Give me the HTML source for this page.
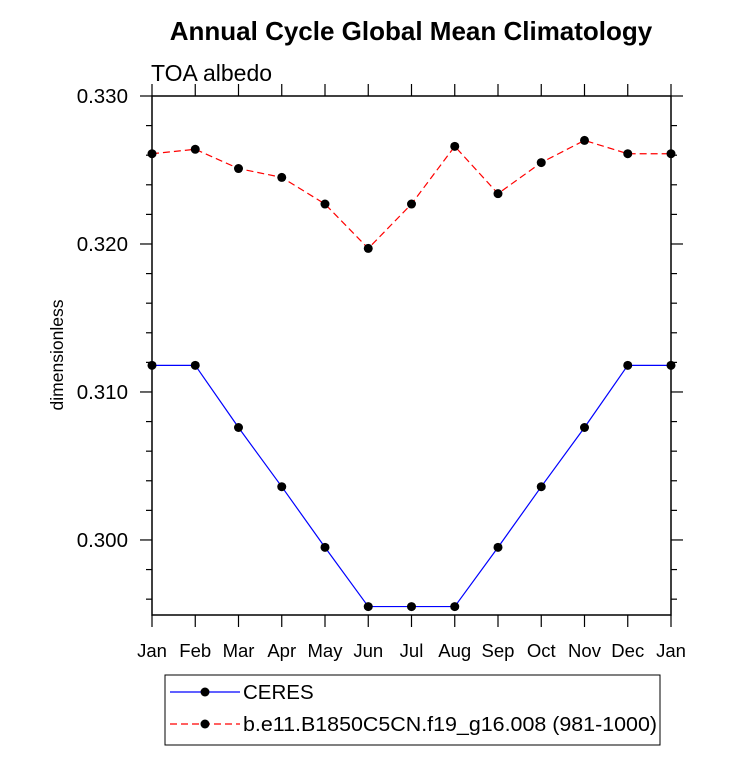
<!DOCTYPE html>
<html><head><meta charset="utf-8"><style>body{margin:0;background:#fff}svg{display:block;font-family:"Liberation Sans",sans-serif}</style></head>
<body>
<svg id="chart" width="733" height="766">
<text x="411" y="40" text-anchor="middle" font-size="26" font-weight="bold">Annual Cycle Global Mean Climatology</text>
<text x="151" y="81" font-size="23">TOA albedo</text>
<text transform="translate(63,355) rotate(-90)" text-anchor="middle" font-size="17.5">dimensionless</text>
<g id="axes"></g>
<g id="series"></g>
<g>
<rect x="165" y="675" width="495" height="70" fill="none" stroke="#000" stroke-width="1"/>
<line x1="170" y1="692" x2="240" y2="692" stroke="#0000ff" stroke-width="1.2"/>
<circle cx="205" cy="692" r="4.5" fill="#000"/>
<text x="243" y="699" font-size="20.5">CERES</text>
<line x1="170" y1="724" x2="240" y2="724" stroke="#ff0000" stroke-width="1.2" stroke-dasharray="7,4"/>
<circle cx="205" cy="724" r="4.5" fill="#000"/>
<text x="243" y="731" font-size="20.5" textLength="414" lengthAdjust="spacingAndGlyphs">b.e11.B1850C5CN.f19_g16.008 (981-1000)</text>
</g>
</svg>
<script>
const months=["Jan","Feb","Mar","Apr","May","Jun","Jul","Aug","Sep","Oct","Nov","Dec","Jan"];
const ceres=[0.3118,0.3118,0.3076,0.3036,0.2995,0.2955,0.2955,0.2955,0.2995,0.3036,0.3076,0.3118,0.3118];
const model=[0.3261,0.3264,0.3251,0.3245,0.3227,0.3197,0.3227,0.3266,0.3234,0.3255,0.3270,0.3261,0.3261];
const yTicks=[0.300,0.310,0.320,0.330];
const yTickLabels=["0.300","0.310","0.320","0.330"];
const L=152,R=671,T=96,B=615,ymin=0.29493,ymax=0.330;
const X=i=>L+i*(R-L)/12;
const Y=v=>B-(v-ymin)/(ymax-ymin)*(B-T);
const NS="http://www.w3.org/2000/svg";
function mk(tag,attrs,parent){const e=document.createElementNS(NS,tag);for(const k in attrs)e.setAttribute(k,attrs[k]);parent.appendChild(e);return e;}
const ax=document.getElementById('axes');
const frame=mk('rect',{x:L,y:T,width:R-L,height:B-T,fill:'none',stroke:'#000','stroke-width':1.5},ax);


months.forEach((m,i)=>{
  const x=X(i);
  mk('line',{x1:x,y1:B,x2:x,y2:B+12,stroke:'#000','stroke-width':1.2},ax);
  mk('line',{x1:x,y1:T,x2:x,y2:T-12,stroke:'#000','stroke-width':1.2},ax);
  const t=mk('text',{x:x,y:B+42,'text-anchor':'middle','font-size':18.5},ax);
  t.textContent=m;
  
  
});
for(let v=0.296;v<=0.3301;v+=0.002){
  const major=Math.abs((v*1000)%10)<0.01||Math.abs((v*1000)%10-10)<0.01;
  const len=major?12:6,y=Y(v);
  mk('line',{x1:L,y1:y,x2:L-len,y2:y,stroke:'#000','stroke-width':1.2},ax);
  mk('line',{x1:R,y1:y,x2:R+len,y2:y,stroke:'#000','stroke-width':1.2},ax);
}
yTicks.forEach((v,i)=>{
  const t=mk('text',{x:L-24,y:Y(v)+7,'text-anchor':'end','font-size':20.5},ax);
  t.textContent=yTickLabels[i];
  
  
});
const sg=document.getElementById('series');
function draw(vals,color,dash,name){
  const g=mk('g',{},sg);
  
  
  const pts=vals.map((v,i)=>X(i)+','+Y(v)).join(' ');
  const a={points:pts,fill:'none',stroke:color,'stroke-width':1.2};
  if(dash)a['stroke-dasharray']=dash;
  mk('polyline',a,g);
  vals.forEach((v,i)=>{
    const c=mk('circle',{cx:X(i),cy:Y(v),r:4.5,fill:'#000'},g);
    
    
  });
}
draw(ceres,'#0000ff',null,'ceres-series');
draw(model,'#ff0000','7,4','model-series');
</script>
</body></html>
